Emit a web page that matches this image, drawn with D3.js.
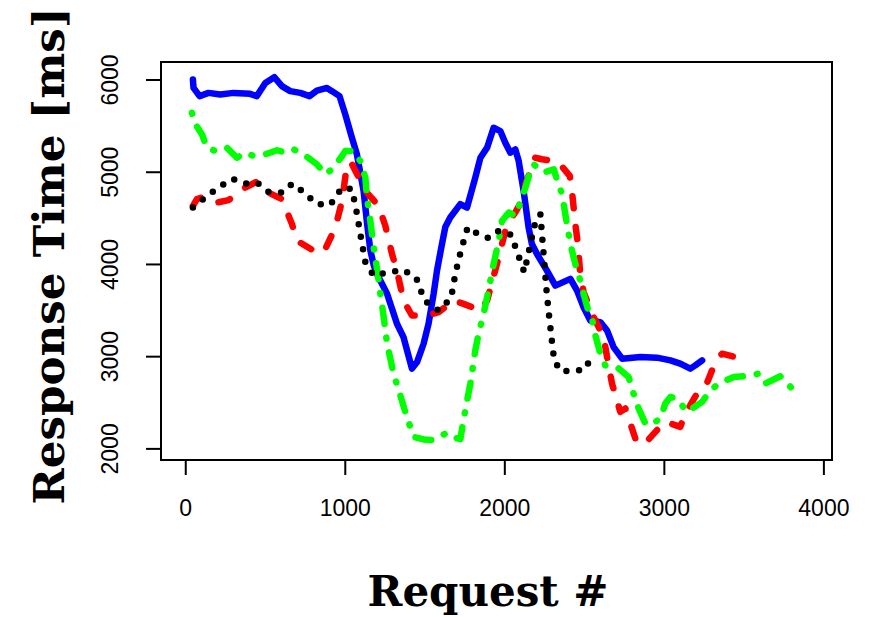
<!DOCTYPE html>
<html>
<head>
<meta charset="utf-8">
<script src="https://cdn.jsdelivr.net/npm/d3@7"></script>
<style>
  html, body { margin: 0; padding: 0; background: #fff; }
  svg { display: block; }
</style>
</head>
<body>
<svg id="chart" width="874" height="617"></svg>
<script>
// ---- data ----
const xTicks = [0, 1000, 2000, 3000, 4000];
const yTicks = [2000, 3000, 4000, 5000, 6000];
const xLabel = "Request #";
const yLabel = "Response Time [ms]";

const blueX = [48,52,90,146,219,303,407,449,502,558,606,658,721,779,825,888,920,967,1003,1045,1076,1118,1139,1160,1181,1202,1265,1327,1368,1421,1453,1494,1525,1557,1578,1609,1630,1661,1724,1766,1818,1850,1892,1933,1975,2006,2038,2069,2090,2121,2152,2173,2205,2267,2320,2414,2456,2497,2539,2602,2644,2685,2738,2853,2957,3041,3103,3166,3197,3240];
const blueY = [6000,5909,5820,5855,5838,5855,5845,5820,5963,6025,5928,5874,5855,5820,5880,5909,5874,5820,5622,5368,5189,4792,4450,4150,3990,3890,3676,3351,3207,2865,2936,3135,3351,3676,3928,4216,4400,4504,4649,4612,4936,5152,5261,5477,5441,5315,5207,5243,5117,4792,4396,4216,4108,3928,3765,3838,3711,3531,3387,3369,3279,3098,2973,2990,2984,2955,2919,2865,2900,2955];

const redX = [48,73,115,199,271,376,449,522,606,669,700,805,868,941,983,1014,1040,1088,1129,1212,1254,1296,1327,1368,1421,1515,1588,1682,1745,1850,1892,1954,2017,2069,2121,2132,2194,2236,2320,2341,2410,2425,2445,2460,2476,2497,2560,2623,2644,2675,2727,2759,2821,2873,2957,3009,3103,3135,3208,3260,3323,3365,3448];
const redY = [4630,4703,4728,4666,4692,4828,4893,4774,4703,4432,4252,4144,4126,4396,4684,5081,5100,4936,4792,4630,4414,4108,3928,3603,3441,3441,3477,3603,3567,3495,3603,4000,4432,4560,4720,4865,5152,5135,5117,5099,4955,4774,4432,4234,3892,3693,3423,3207,2990,2703,2396,2432,2108,2036,2198,2288,2234,2378,2595,2666,2936,3027,2990];

const blackX = [48,130,207,295,376,451,522,608,671,746,823,909,983,1045,1076,1101,1129,1181,1275,1368,1448,1500,1588,1666,1693,1729,1770,1835,1902,1965,2042,2085,2125,2157,2188,2226,2238,2251,2263,2278,2295,2313,2359,2431,2497,2550];
const blackY = [4612,4728,4828,4922,4872,4882,4782,4774,4872,4774,4649,4641,4828,4811,4547,4288,4018,3874,3910,3935,3849,3603,3495,3628,3892,4151,4396,4324,4281,4360,4317,4108,3910,4162,4414,4540,4281,4011,3741,3477,3214,2947,2832,2847,2847,2990];

const greenX = [42,52,105,136,188,261,324,376,428,502,575,627,679,742,825,878,920,983,1003,1055,1097,1129,1139,1160,1181,1202,1223,1244,1265,1306,1348,1379,1431,1494,1557,1640,1680,1724,1755,1787,1818,1839,1870,1892,1933,1965,1986,2028,2069,2111,2132,2163,2184,2247,2310,2326,2362,2389,2414,2445,2476,2497,2529,2550,2571,2602,2633,2706,2779,2810,2842,2884,2915,2978,3009,3041,3082,3145,3240,3292,3344,3438,3553,3595,3636,3730,3814];
const greenY = [5639,5549,5405,5261,5225,5261,5152,5207,5171,5189,5233,5207,5243,5189,5081,4973,5027,5171,5225,5225,5117,4936,4720,4468,4180,3945,3676,3423,3135,2811,2576,2396,2126,2097,2090,2170,2120,2100,2414,2703,3063,3243,3459,3639,4000,4252,4468,4558,4522,4720,4828,5009,5081,4991,5027,4936,4757,4468,4216,4000,3820,3676,3477,3405,3225,3027,2900,2882,2774,2595,2432,2270,2252,2324,2486,2558,2541,2396,2504,2630,2703,2774,2792,2811,2703,2782,2630];

const seriesList = [
  { name: "blue",  xs: blueX,  ys: blueY,  color: "#0000FF", dash: null },
  { name: "red",   xs: redX,   ys: redY,   color: "#FF0000", dash: "12,19" },
  { name: "green", xs: greenX, ys: greenY, color: "#00FF00", dash: "1,14,16,14" },
  { name: "black", xs: blackX, ys: blackY, color: "#000000", dash: "0,12.7" }
];

// ---- drawing ----
const svg = d3.select("#chart");
const box = { left: 161, right: 832, top: 62, bottom: 460 };

const x = d3.scaleLinear().domain([-152, 4054]).range([box.left, box.right]);
const y = d3.scaleLinear().domain([1874, 6190]).range([box.bottom, box.top]);

const line = d3.line().x(d => x(d[0])).y(d => y(d[1]));

seriesList.forEach(s => {
  const pts = s.xs.map((v, i) => [v, s.ys[i]]);
  const p = svg.append("path")
    .datum(pts)
    .attr("d", line)
    .attr("fill", "none")
    .attr("stroke", s.color)
    .attr("stroke-width", 6.5)
    .attr("stroke-linecap", "round")
    .attr("stroke-linejoin", "round");
  if (s.dash) p.attr("stroke-dasharray", s.dash);
});

// box
svg.append("rect")
  .attr("x", box.left).attr("y", box.top)
  .attr("width", box.right - box.left).attr("height", box.bottom - box.top)
  .attr("fill", "none").attr("stroke", "#000").attr("stroke-width", 2);

// x axis
const gx = svg.append("g")
  .attr("transform", `translate(0,${box.bottom})`)
  .call(d3.axisBottom(x).tickValues(xTicks).tickSize(15).tickFormat(d3.format("d")));
gx.select(".domain").remove();
gx.selectAll(".tick line").attr("stroke", "#000").attr("stroke-width", 2);
gx.selectAll(".tick text")
  .attr("y", 56).attr("dy", 0)
  .attr("fill", "#000")
  .style("font-family", "'Liberation Sans', Arial, sans-serif")
  .style("font-size", "23px");

// y axis
const gy = svg.append("g")
  .attr("transform", `translate(${box.left},0)`)
  .call(d3.axisLeft(y).tickValues(yTicks).tickSize(15).tickFormat(d3.format("d")));
gy.select(".domain").remove();
gy.selectAll(".tick line").attr("stroke", "#000").attr("stroke-width", 2);
gy.selectAll(".tick text")
  .attr("transform", "rotate(-90)")
  .attr("x", 0).attr("y", -43).attr("dy", 0)
  .attr("text-anchor", "middle")
  .attr("fill", "#000")
  .style("font-family", "'Liberation Sans', Arial, sans-serif")
  .style("font-size", "23px");

// axis titles
svg.append("text")
  .attr("x", 488).attr("y", 606)
  .attr("text-anchor", "middle")
  .style("font-family", "'DejaVu Serif', serif")
  .style("font-weight", "bold")
  .style("font-size", "43px")
  .attr("textLength", 241).attr("lengthAdjust", "spacingAndGlyphs")
  .text(xLabel);

svg.append("text")
  .attr("transform", "translate(64,256) rotate(-90)")
  .attr("text-anchor", "middle")
  .style("font-family", "'DejaVu Serif', serif")
  .style("font-weight", "bold")
  .style("font-size", "43px")
  .attr("textLength", 497).attr("lengthAdjust", "spacingAndGlyphs")
  .text(yLabel);
</script>
</body>
</html>
